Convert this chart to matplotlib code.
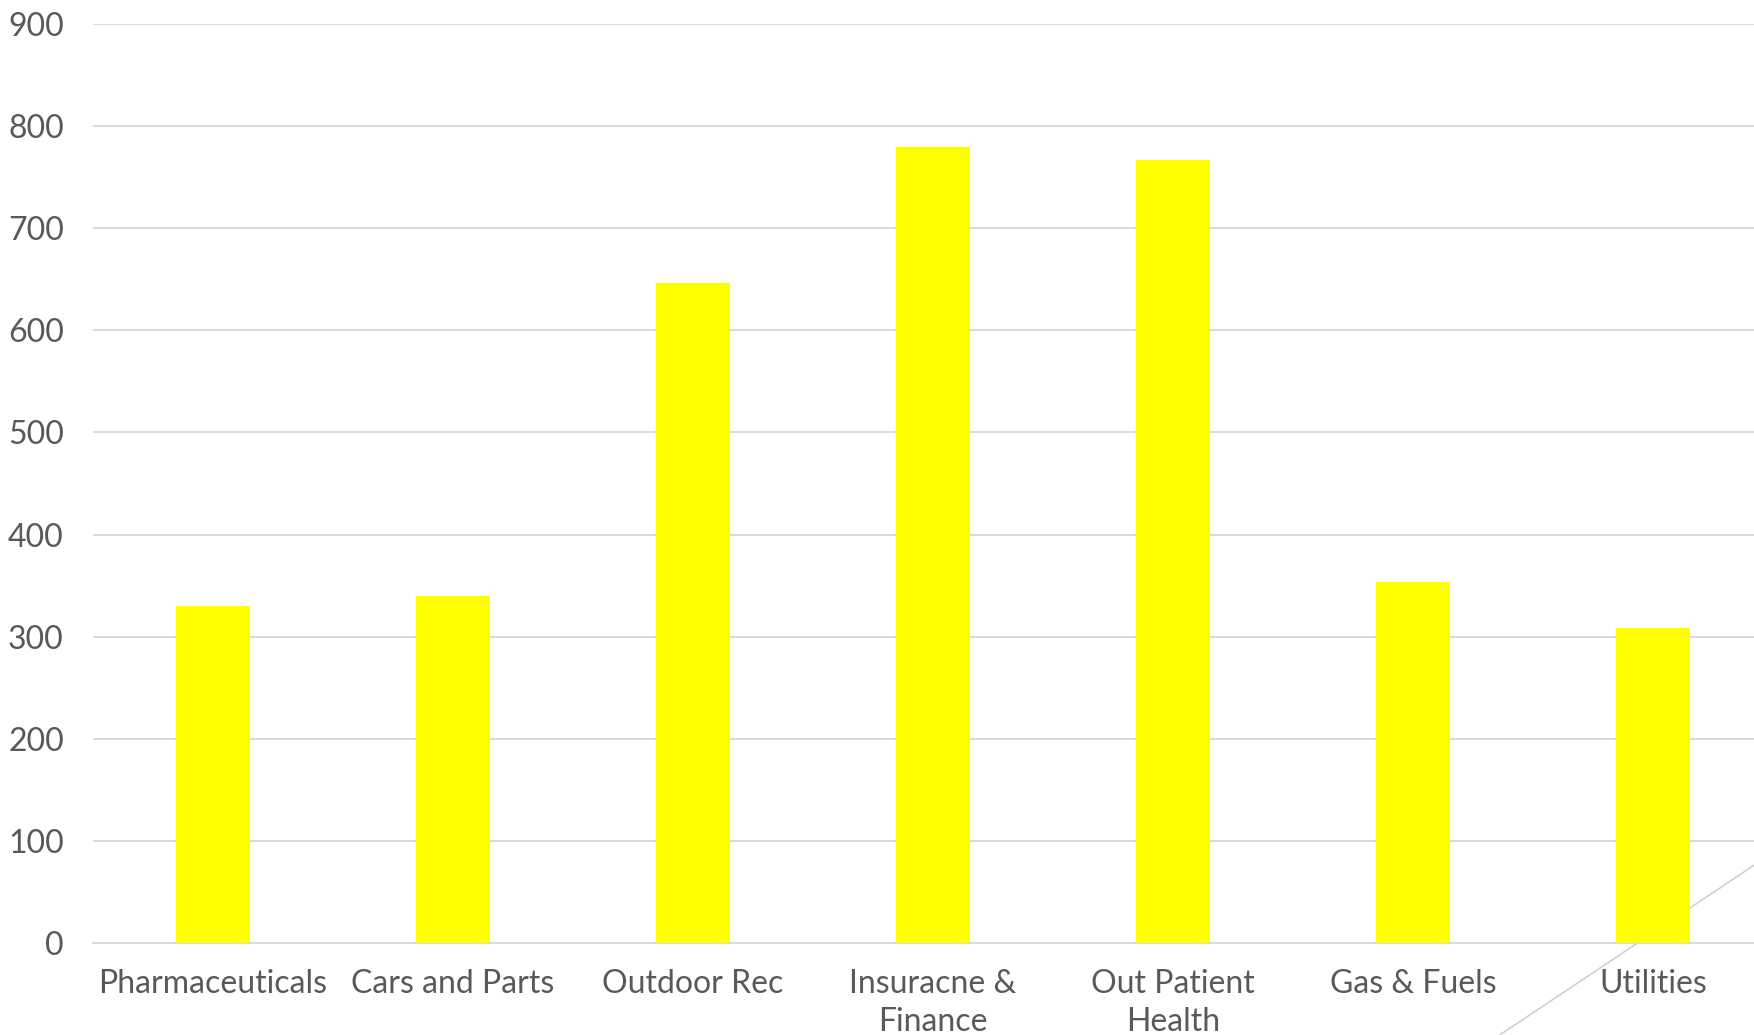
import matplotlib
matplotlib.use('Agg')
import matplotlib.pyplot as plt
from matplotlib.lines import Line2D

categories = ["Pharmaceuticals", "Cars and Parts", "Outdoor Rec",
              "Insuracne &\nFinance", "Out Patient\nHealth", "Gas & Fuels", "Utilities"]
values = [330, 340, 646, 780, 767, 354, 308]
yticks = [0, 100, 200, 300, 400, 500, 600, 700, 800, 900]

plt.rcParams['font.family'] = ['Lato', 'DejaVu Sans']
TXT = '#595959'
GRID = '#d9d9d9'

W, H = 1754, 1035
fig = plt.figure(figsize=(W / 100, H / 100), dpi=100)
# plot area runs slightly past the right edge, as in the original crop
ax = fig.add_axes([93 / W, 1 - 943 / H, 1680 / W, 919 / H])
ax.patch.set_alpha(0)

x = range(len(categories))
ax.bar(x, values, width=0.31, color='#ffff00', zorder=3)

ax.set_xlim(-0.5, len(categories) - 0.5)
ax.set_ylim(0, 900)
ax.set_yticks(yticks)
ax.set_xticks(list(x))
ax.set_xticklabels(categories, linespacing=1.3)
ax.tick_params(axis='both', length=0, labelsize=23, colors=TXT)
ax.tick_params(axis='y', pad=21)
ax.tick_params(axis='x', pad=19)
ax.grid(axis='y', color=GRID, lw=1.4, zorder=0)
for s in ('top', 'right', 'left'):
    ax.spines[s].set_visible(False)
ax.spines['bottom'].set_color(GRID)
ax.spines['bottom'].set_linewidth(1.4)

# stray diagonal connector line in the lower right, sits behind the bars
fig.add_artist(Line2D([1.0, 0.855], [0.164, 0.0], transform=fig.transFigure,
                      color='#d0d0d0', lw=1.2, zorder=-1))

fig.savefig('out.png', dpi=100, facecolor='white')
